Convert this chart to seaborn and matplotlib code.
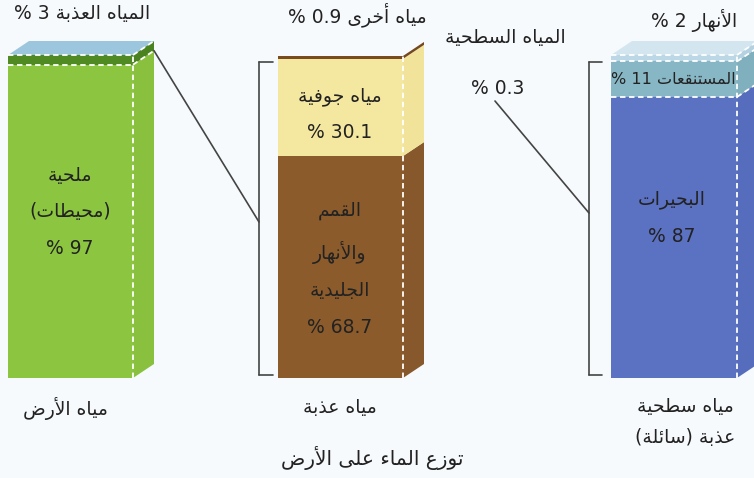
import re
import matplotlib
matplotlib.use("Agg")
import matplotlib.pyplot as plt
from matplotlib.patches import Polygon
from matplotlib.lines import Line2D
import seaborn as sns

# ---- data -------------------------------------------------------------
earth_layers = ["ملحية (محيطات)", "المياه العذبة"]
earth_values = [97, 3]

fresh_layers = ["القمم والأنهار الجليدية", "مياه جوفية", "مياه أخرى"]
fresh_values = [68.7, 30.1, 0.9]
surface_share = 0.3

surface_layers = ["البحيرات", "المستنقعات", "الأنهار"]
surface_values = [87, 11, 2]

bar_names = ["مياه الأرض", "مياه عذبة", "مياه سطحية\nعذبة (سائلة)"]
title = "توزع الماء على الأرض"

# ---- Arabic shaping (presentation forms) + right-to-left ordering ------
_seq = [("ء", 1), ("آ", 2), ("أ", 2), ("ؤ", 2), ("إ", 2), ("ئ", 4), ("ا", 2),
        ("ب", 4), ("ة", 2), ("ت", 4), ("ث", 4), ("ج", 4), ("ح", 4), ("خ", 4),
        ("د", 2), ("ذ", 2), ("ر", 2), ("ز", 2), ("س", 4), ("ش", 4), ("ص", 4),
        ("ض", 4), ("ط", 4), ("ظ", 4), ("ع", 4), ("غ", 4), ("ف", 4), ("ق", 4),
        ("ك", 4), ("ل", 4), ("م", 4), ("ن", 4), ("ه", 4), ("و", 2), ("ى", 2),
        ("ي", 4)]
FORMS = {}
_cp = 0xFE80
for _ch, _n in _seq:
    FORMS[_ch] = [_cp + k for k in range(_n)] + [None] * (4 - _n)
    _cp += _n
LAMALEF = {"آ": 0xFEF5, "أ": 0xFEF7, "إ": 0xFEF9, "ا": 0xFEFB}


def _dual(c):
    return c in FORMS and FORMS[c][2] is not None


def _joiner(c):
    return c in FORMS and c != "ء"


def shape(text):
    out, i, n = [], 0, len(text)
    while i < n:
        c = text[i]
        if c not in FORMS:
            out.append(c)
            i += 1
            continue
        prev = text[i - 1] if i > 0 else None
        jp = prev is not None and _dual(prev) and c != "ء"
        if c == "ل" and i + 1 < n and text[i + 1] in LAMALEF:
            base = LAMALEF[text[i + 1]]
            out.append(chr(base + 1 if jp else base))
            i += 2
            continue
        nxt = text[i + 1] if i + 1 < n else None
        jn = _dual(c) and nxt is not None and _joiner(nxt)
        f = FORMS[c]
        g = f[3] if (jp and jn) else f[1] if jp else f[2] if jn else f[0]
        out.append(chr(g))
        i += 1
    return "".join(out)


_MIRROR = {"(": ")", ")": "("}


def rtl(text):
    lines = []
    for line in text.split("\n"):
        tokens = re.findall(r"[0-9]+(?:\.[0-9]+)?|.", shape(line))
        tokens = [_MIRROR.get(t, t) for t in reversed(tokens)]
        lines.append("".join(tokens))
    return "\n".join(lines)


def pct(v):
    return f"{v:g} %"


# ---- figure -----------------------------------------------------------
sns.set_theme(style="white")
plt.rcParams["font.family"] = ["DejaVu Sans"]

W, H = 754, 478
fig = plt.figure(figsize=(W / 100, H / 100), dpi=100)
fig.patch.set_facecolor("#f7fafc")

BOTTOM_PX, TOP_PX = 378, 55
DX, DY = 21, 14  # depth of the 3-D faces in pixels


def add_bar_axes(left_px, right_px):
    ax = fig.add_axes([left_px / W, (H - BOTTOM_PX) / H,
                       (right_px - left_px) / W, (BOTTOM_PX - TOP_PX) / H])
    ax.set_axis_off()
    ax.patch.set_alpha(0)
    return ax


def draw_stack(ax, name, values, colors):
    bottom = 0
    for v, c in zip(values, colors):
        sns.barplot(x=[name], y=[v], bottom=bottom, color=c, width=1.0,
                    saturation=1, errorbar=None, linewidth=0, ax=ax)
        bottom += v
    ax.set_xlim(-0.5, 0.5)
    ax.set_ylim(0, 100)
    return list(ax.patches)


to_fig = fig.transFigure.inverted()


def px(xy):
    return to_fig.transform(xy)


def poly(pts, color, z=2):
    fig.add_artist(Polygon(px(pts), closed=True, facecolor=color,
                           edgecolor="none", transform=fig.transFigure, zorder=z))


def dashed(p0, p1, z=3):
    a, b = px([p0, p1])
    fig.add_artist(Line2D([a[0], b[0]], [a[1], b[1]], color="white", lw=1.3,
                          ls=(0, (3, 2)), transform=fig.transFigure, zorder=z))


def extrude(ax, patches, side_colors, top_color, boundaries):
    ext = []
    for p in patches:
        (x0, y0), (x1, y1) = ax.transData.transform(
            [(p.get_x(), p.get_y()), (p.get_x() + p.get_width(), p.get_y() + p.get_height())])
        ext.append((x0, y0, x1, y1))
    for (x0, y0, x1, y1), sc in zip(ext, side_colors):
        poly([(x1, y0), (x1 + DX, y0 + DY), (x1 + DX, y1 + DY), (x1, y1)], sc)
    x0, _, x1, ytop = ext[-1]
    if top_color is not None:
        poly([(x0, ytop), (x0 + DX, ytop + DY), (x1 + DX, ytop + DY), (x1, ytop)], top_color)
    ybot = ext[0][1]
    dashed((x1, ybot), (x1, ytop))
    if boundaries:
        for (_, _, _, y) in ext:
            dashed((x0, y), (x1, y))
            dashed((x1, y), (x1 + DX, y + DY))
    return ext


def line(p0, p1, color="#444444", lw=1.2):
    a, b = px([p0, p1])
    fig.add_artist(Line2D([a[0], b[0]], [a[1], b[1]], color=color, lw=lw,
                          transform=fig.transFigure, zorder=4))


def label(x, y, text, size=13.5, color="#222222", spacing=2.15):
    fig.text(x / W, 1 - y / H, rtl(text), ha="center", va="center",
             fontsize=size, color=color, zorder=6, linespacing=spacing)


# bar 1 : all water on Earth
ax1 = add_bar_axes(8, 133)
p1 = draw_stack(ax1, bar_names[0], earth_values, ["#8cc540", "#4f8a22"])
e1 = extrude(ax1, p1, ["#89c03e", "#4a8220"], "#9cc6dd", True)

# bar 2 : fresh water
ax2 = add_bar_axes(278, 403)
p2 = draw_stack(ax2, bar_names[1], fresh_values, ["#8b5b2c", "#f4e7a0", "#7a4b21"])
e2 = extrude(ax2, p2, ["#87582b", "#f1e39a", "#744720"], None, False)

# bar 3 : liquid surface fresh water
ax3 = add_bar_axes(611, 737)
p3 = draw_stack(ax3, bar_names[2], surface_values, ["#5b71c2", "#87b6c4", "#bcd7e6"])
e3 = extrude(ax3, p3, ["#566cbd", "#80afbd", "#b4d1e2"], "#d3e6f0", True)


# brackets and connecting lines (display pixels, y upwards)
def bracket(bx, top, bottom, tick):
    line((bx, top), (bx + tick, top))
    line((bx, top), (bx, bottom))
    line((bx, bottom), (bx + tick, bottom))


b2x = e2[0][0] - 19
bracket(b2x, H - 62, H - 375, 14)
x0, y0, x1, y1 = e1[0]
line((x1 + DX, y1 + DY), (b2x, H - 222))

b3x = e3[0][0] - 22
bracket(b3x, H - 62, H - 375, 13)
line((495, H - 101), (b3x, H - 213))

# labels
label(82, 14, f"{earth_layers[1]} {pct(earth_values[1])}")
label(357, 15, f"{fresh_layers[2]} {pct(fresh_values[2])}")
label(505, 38, "المياه السطحية")
label(498, 88, pct(surface_share))
label(694, 20, f"{surface_layers[2]} {pct(surface_values[2])}")

label(70, 212, "ملحية\n(محيطات)\n" + pct(earth_values[0]))
label(340, 96, fresh_layers[1])
label(340, 133, pct(fresh_values[1]))
label(340, 269, "القمم\nوالأنهار\nالجليدية\n" + pct(fresh_values[0]))
label(673, 80, f"{surface_layers[1]} {pct(surface_values[1])}", size=11.5)
label(672, 218, surface_layers[0] + "\n" + pct(surface_values[0]))

label(65, 408, bar_names[0])
label(340, 408, bar_names[1])
label(685, 422, bar_names[2], spacing=1.85)
label(372, 458, title, size=14.5)

fig.savefig("out.png", dpi=100, facecolor=fig.get_facecolor())
